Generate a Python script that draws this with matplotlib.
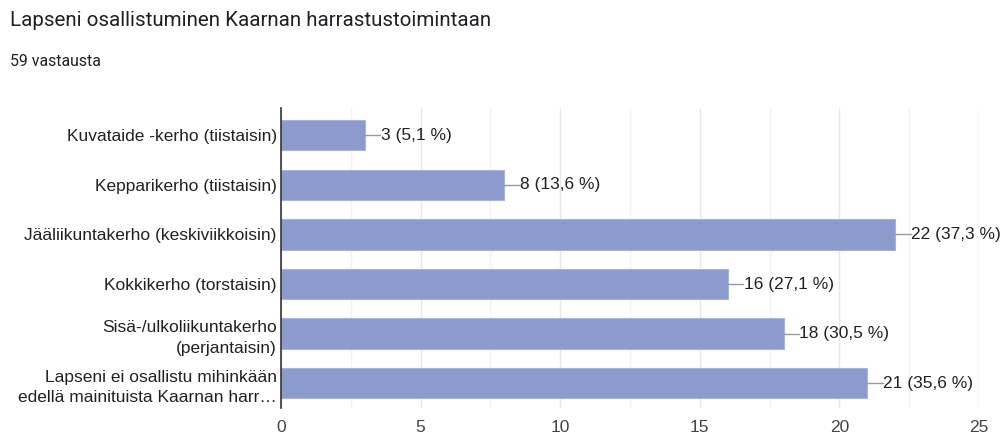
import matplotlib.pyplot as plt
from matplotlib.ticker import MultipleLocator

categories = [
    "Kuvataide -kerho (tiistaisin)",
    "Kepparikerho (tiistaisin)",
    "Jääliikuntakerho (keskiviikkoisin)",
    "Kokkikerho (torstaisin)",
    "Sisä-/ulkoliikuntakerho\n(perjantaisin)",
    "Lapseni ei osallistu mihinkään\nedellä mainituista Kaarnan harr…",
]
counts = [3, 8, 22, 16, 18, 21]
percents = ["5,1", "13,6", "37,3", "27,1", "30,5", "35,6"]
total = 59

fig = plt.figure(figsize=(10.06, 4.38), dpi=100)
ax = fig.add_axes([281 / 1006, 1 - 408 / 438, (979 - 281) / 1006, 300 / 438])

ypos = list(range(len(categories)))
ax.barh(ypos, counts, height=0.61, color="#8c9bcb", edgecolor="#a9b4da", linewidth=0.8, zorder=3)

ax.set_xlim(0, 25)
ax.set_ylim(5.5, -0.55)
ax.xaxis.set_major_locator(MultipleLocator(5))
ax.xaxis.set_minor_locator(MultipleLocator(2.5))
ax.grid(axis="x", which="major", color="#e8e8e8", linewidth=1, zorder=0)
ax.grid(axis="x", which="minor", color="#f3f3f3", linewidth=1, zorder=0)

ax.set_yticks(ypos)
ax.set_yticklabels(categories, fontsize=12.5, color="#222222", family="Liberation Sans",
                   linespacing=1.45)
ax.tick_params(axis="y", length=0, pad=3)
ax.tick_params(axis="x", which="both", length=0, pad=9, labelsize=12.5, labelcolor="#444444")
for lbl in ax.get_xticklabels():
    lbl.set_family("Liberation Sans")

for s in ["top", "right", "bottom"]:
    ax.spines[s].set_visible(False)
ax.spines["left"].set_color("#333333")
ax.spines["left"].set_linewidth(1.2)
ax.spines["left"].set_zorder(4)

for y, c, p in zip(ypos, counts, percents):
    ax.plot([c, c + 0.55], [y, y], color="#999999", linewidth=1, zorder=4)
    ax.text(c + 0.57, y, f"{c} ({p} %)", va="center", ha="left", fontsize=12.5,
            color="#222222", family="Liberation Sans")

fig.text(10 / 1006, 1 - 21 / 438, "Lapseni osallistuminen Kaarnan harrastustoimintaan",
         fontsize=14.8, color="#202124", family="Roboto", va="center")
fig.text(10 / 1006, 1 - 62 / 438, f"{total} vastausta", fontsize=11.4,
         color="#202124", family="Roboto", va="center")

fig.savefig("out.png", dpi=100)
